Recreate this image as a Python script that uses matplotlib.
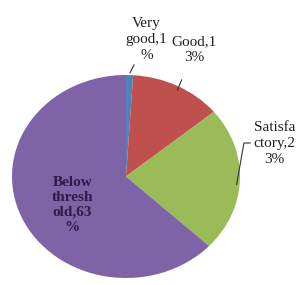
import matplotlib
matplotlib.use("Agg")
import matplotlib.pyplot as plt

# data
categories = ["Very good", "Good", "Satisfactory", "Below threshold"]
shares = [1, 13, 23, 63]
label_texts = ["Very\ngood,1\n%", "Good,1\n3%", "Satisfa\nctory,2\n3%", "Below\nthresh\nold,63\n%"]
colors = ["#4F81BD", "#C0504D", "#9BBB59", "#7F63A7"]

fig = plt.figure(figsize=(3.03, 2.85), dpi=100)
# pie is slightly squashed vertically in the reference
ax = fig.add_axes([12 / 303, 7 / 285, 228 / 303, 203 / 285])

wedges, _ = ax.pie(shares, colors=colors, startangle=90, counterclock=False,
                   radius=1, wedgeprops=dict(linewidth=0))
ax.set_aspect("auto")
ax.set_xlim(-1, 1)
ax.set_ylim(-1, 1)
ax.axis("off")

font = dict(family="Liberation Serif", fontsize=11, color="#222222",
            ha="center", va="center", linespacing=1.3)

# outside labels with leader lines (text pos, line end on the pie)
ax.annotate(label_texts[0], xy=(0.035, 1.02), xytext=(0.18, 1.35),
            arrowprops=dict(arrowstyle="-", color="#333333", lw=0.8,
                            shrinkA=12, shrinkB=0),
            annotation_clip=False, **font)
ax.annotate(label_texts[1], xy=(0.45, 0.85), xytext=(0.6, 1.25),
            arrowprops=dict(arrowstyle="-", color="#333333", lw=0.8,
                            shrinkA=10, shrinkB=0),
            annotation_clip=False, **font)
ax.annotate(label_texts[2], xy=(0.97, -0.08), xytext=(1.3, 0.33),
            arrowprops=dict(arrowstyle="-", color="#333333", lw=0.8,
                            shrinkA=0, shrinkB=0,
                            connectionstyle="angle,angleA=0,angleB=80,rad=0"),
            annotation_clip=False, **font)

# inside label for the big slice
ax.text(-0.47, -0.28, label_texts[3], family="Liberation Serif", fontsize=11,
        fontweight="bold", color="#2B1C4A", ha="center", va="center",
        linespacing=1.2)

fig.savefig("out.png", dpi=100)
